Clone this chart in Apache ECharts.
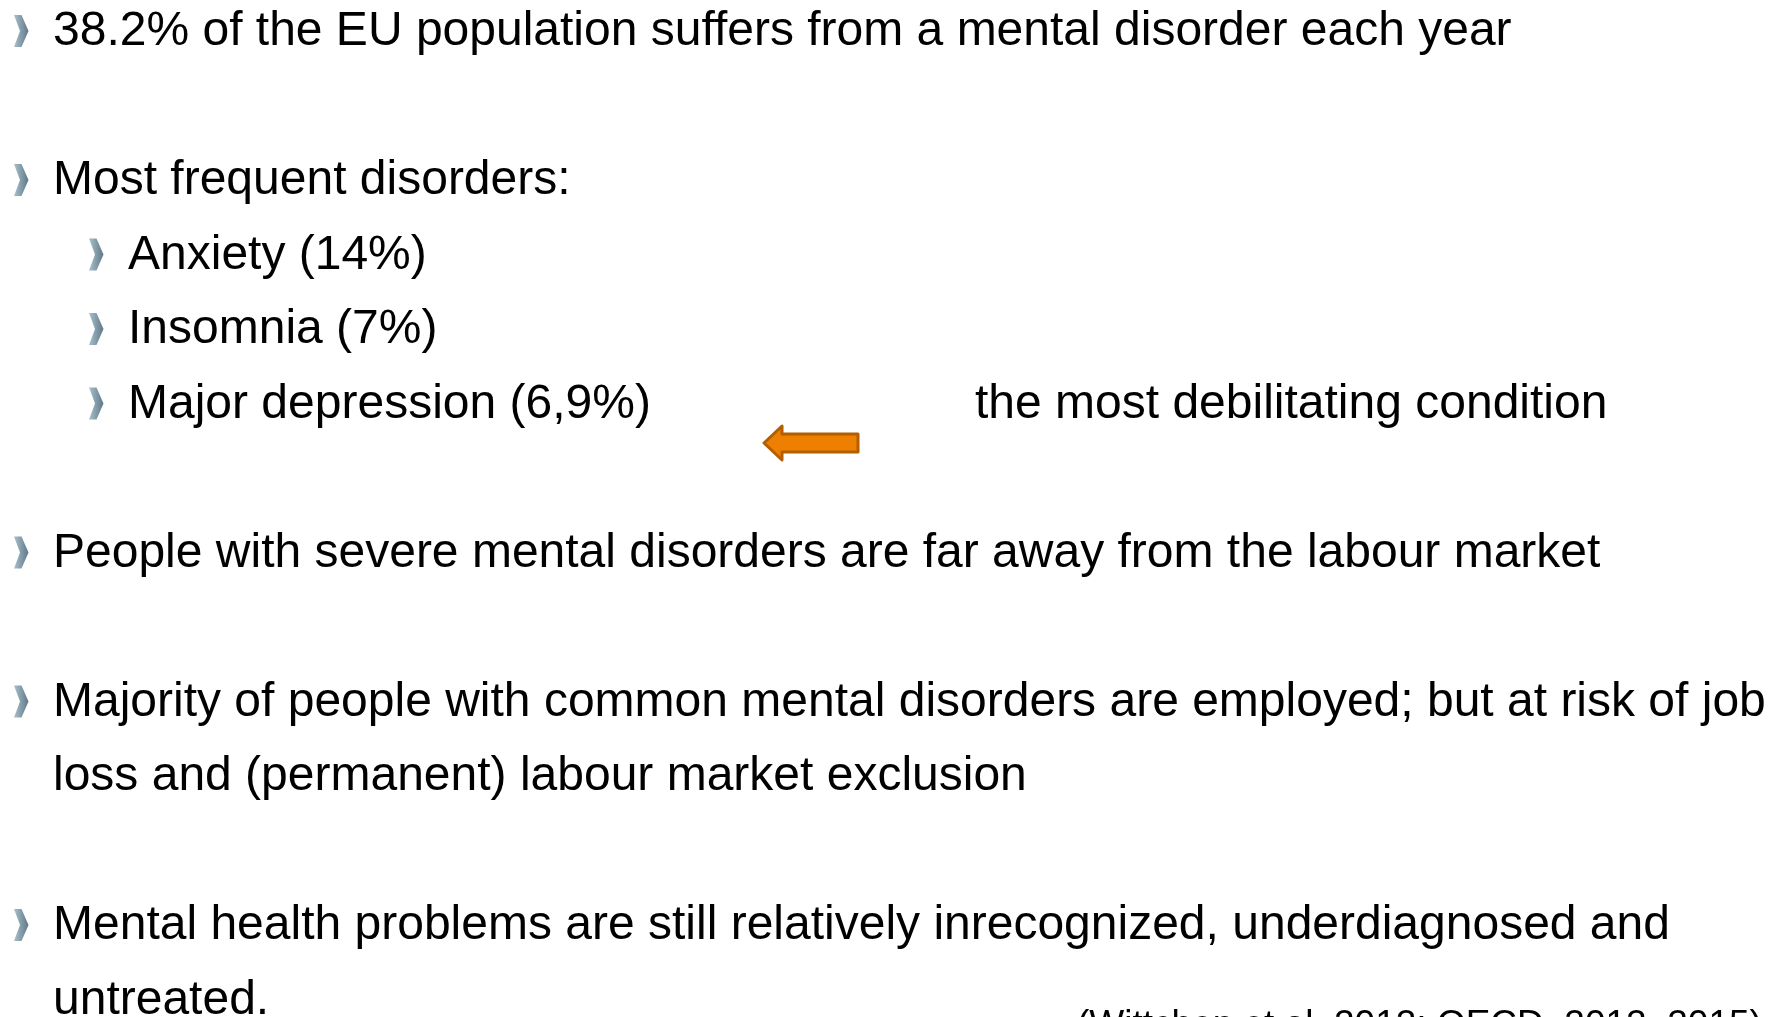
<!DOCTYPE html>
<html>
<head>
<meta charset="utf-8">
<title>Mental disorders in the EU</title>
<style>
    html, body { margin: 0; padding: 0; background: #fff; }
    #container { width: 1777px; height: 1017px; }
</style>
</head>
<body>
<div id="container"></div>
<script src="https://cdn.jsdelivr.net/npm/echarts@6/dist/echarts.min.js"></script>
<script type="text/javascript">
    // slide text
    var bulletText = [
        '38.2% of the EU population suffers from a mental disorder each year',
        'Most frequent disorders:',
        'Anxiety (14%)',
        'Insomnia (7%)',
        'Major depression (6,9%)',
        'People with severe mental disorders are far away from the labour market',
        'Majority of people with common mental disorders are employed; but at risk of job',
        'loss and (permanent) labour market exclusion',
        'Mental health problems are still relatively inrecognized, underdiagnosed and',
        'untreated.'
    ];
    // 1 = bullet, 2 = sub bullet, 0 = wrapped line of the bullet above
    var bulletLevel = [1, 1, 2, 2, 2, 1, 1, 0, 1, 0];
    // which text row each line sits on (empty rows between paragraphs)
    var bulletRow = [0, 2, 3, 4, 5, 7, 9, 10, 12, 13];
    var noteText = 'the most debilitating condition';
    var noteRow = 5;
    var sourceText = '(Wittchen et al. 2012; OECD, 2012, 2015)';

    var dom = document.getElementById('container');
    var myChart = echarts.init(dom);

    var FONT = '"Liberation Sans", Arial, sans-serif';
    var fontSize = 48;
    var firstBaseline = 47;
    var rowStep = 74.5;

    function baselineOf(row) {
        return firstBaseline + row * rowStep;
    }

    function chevron(x, base) {
        var top = base - 32, mid = base - 16;
        return {
            type: 'polygon',
            shape: {
                points: [[x, top], [x + 7.5, top], [x + 14.5, mid], [x + 7.5, base], [x, base], [x + 6, mid]]
            },
            style: {
                fill: new echarts.graphic.LinearGradient(0, 0, 1, 0, [
                    {offset: 0, color: '#a9c0cc'},
                    {offset: 1, color: '#5f7888'}
                ])
            }
        };
    }

    var elements = [];
    bulletText.forEach(function (txt, i) {
        var base = baselineOf(bulletRow[i]);
        var lvl = bulletLevel[i];
        var textX = lvl === 2 ? 128 : 53;
        if (lvl === 1) {
            elements.push(chevron(14, base));
        } else if (lvl === 2) {
            elements.push(chevron(89, base));
        }
        elements.push({
            type: 'text',
            style: {
                text: txt,
                x: textX,
                y: base - 15,
                verticalAlign: 'middle',
                font: fontSize + 'px ' + FONT,
                fill: '#000'
            }
        });
    });

    var noteBase = baselineOf(noteRow);
    elements.push({
        type: 'text',
        style: {
            text: noteText,
            x: 975,
            y: noteBase - 15,
            verticalAlign: 'middle',
            font: fontSize + 'px ' + FONT,
            fill: '#000'
        }
    });

    // orange arrow pointing back to "Major depression"
    elements.push({
        type: 'polygon',
        shape: {
            points: [[764, 443], [782, 426], [782, 434], [858, 434], [858, 452], [782, 452], [782, 460]]
        },
        style: {
            fill: '#ee7f00',
            stroke: '#b35f00',
            lineWidth: 3,
            lineJoin: 'round'
        }
    });

    // source, cut off by the slide edge
    elements.push({
        type: 'text',
        style: {
            text: sourceText,
            x: 1077,
            y: 1007,
            verticalAlign: 'top',
            font: '37px ' + FONT,
            fill: '#000'
        }
    });

    var option = {
        backgroundColor: '#fff',
        animation: false,
        graphic: {elements: elements}
    };
    myChart.setOption(option, true);
</script>
</body>
</html>
